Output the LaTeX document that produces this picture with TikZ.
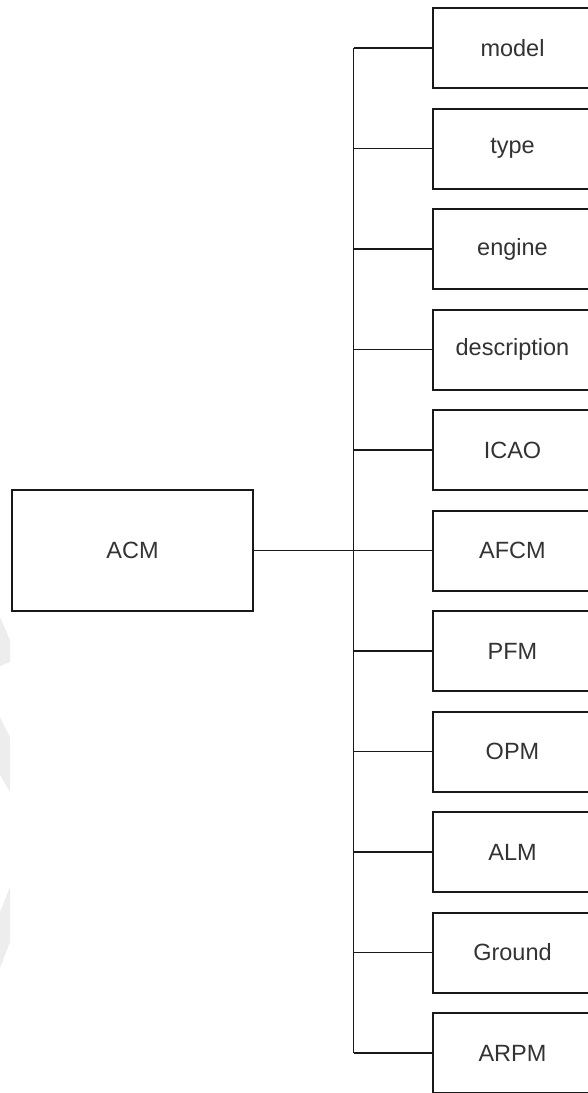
\documentclass[tikz,border=0pt]{standalone}
\usepackage{fontspec}
\setmainfont{Liberation Sans}
\begin{document}
\begin{tikzpicture}[x=1pt,y=-1pt,
  box/.style={draw=black!90, line width=2pt, fill=white, outer sep=0pt, inner sep=0pt,
    text=black!80, font=\fontsize{23.5}{28}\selectfont},
  leaf/.style={box, minimum width=159pt, minimum height=80pt, anchor=north west},
  link/.style={draw=black!90, line width=1.8pt},
  mark/.style={fill=black!7, draw=none}]
\useasboundingbox (0,0) rectangle (588,1093);
\clip (0,0) rectangle (588,1093);

% faint background shapes along the left edge
\fill[black!7] (0,617) -- (10,640) -- (10,662) -- (0,666) -- cycle;
\fill[black!7] (0,717) -- (10,737) -- (10,792) -- (0,775) -- cycle;
\fill[black!7] (10,887) -- (10,942) -- (0,968) -- (0,912) -- cycle;

% root
\node[box, minimum width=241pt, minimum height=121pt] (acm) at (132.5,550.5) {ACM};

% children
\node[leaf] (model)  at (433,8)     {model};
\node[leaf] (type)   at (433,108.5) {type};
\node[leaf] (engine) at (433,209)   {engine};
\node[leaf] (descr)  at (433,309.5) {description};
\node[leaf] (icao)   at (433,410)   {ICAO};
\node[leaf] (afcm)   at (433,510.5) {AFCM};
\node[leaf] (pfm)    at (433,611)   {PFM};
\node[leaf] (opm)    at (433,711.5) {OPM};
\node[leaf] (alm)    at (433,812)   {ALM};
\node[leaf] (ground) at (433,912.5) {Ground};
\node[leaf] (arpm)   at (433,1013)  {ARPM};

% bus
\coordinate (bus) at (353.5,0);
\draw[link] (model.west -| bus) -- (arpm.west -| bus);
\draw[link] (acm.east) -- (acm.east -| bus);
\foreach \n in {model,type,engine,descr,icao,afcm,pfm,opm,alm,ground,arpm}
  \draw[link] (\n.west -| bus) -- (\n.west);
\end{tikzpicture}
\end{document}
